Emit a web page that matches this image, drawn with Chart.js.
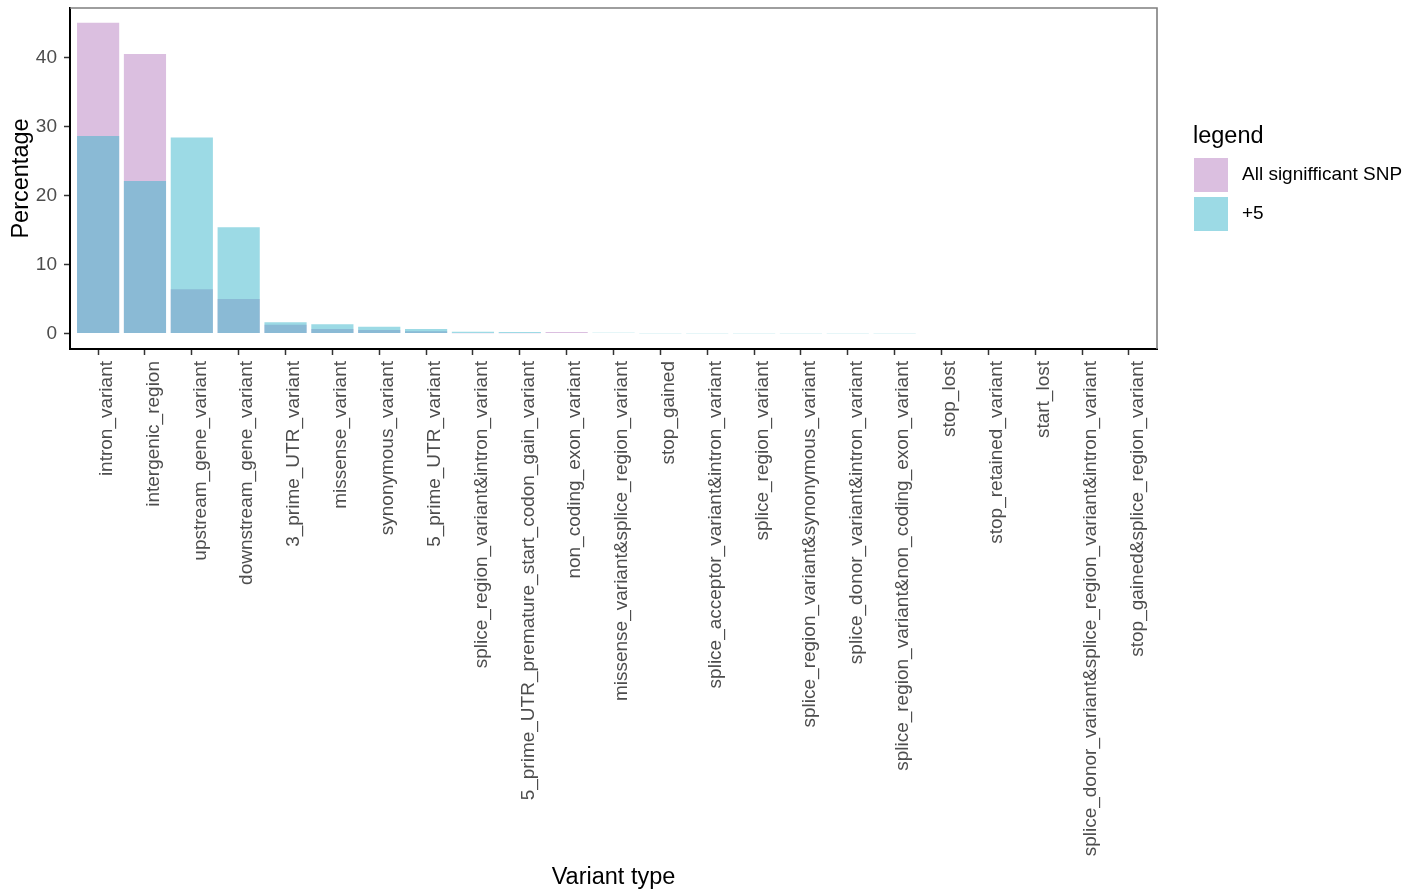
<!DOCTYPE html>
<html>
<head>
<meta charset="utf-8">
<script src="https://cdn.jsdelivr.net/npm/chart.js@4/dist/chart.umd.min.js"></script>
<style>
  html, body { margin: 0; padding: 0; background: #ffffff; }
  #wrap { width: 1421px; height: 895px; }
</style>
</head>
<body>
<div id="wrap"><canvas id="chart" width="1421" height="895"></canvas></div>
<script>
// Variant types, in plotted order
const categories = [
  'intron_variant', 'intergenic_region', 'upstream_gene_variant', 'downstream_gene_variant',
  '3_prime_UTR_variant', 'missense_variant', 'synonymous_variant', '5_prime_UTR_variant',
  'splice_region_variant&intron_variant', '5_prime_UTR_premature_start_codon_gain_variant',
  'non_coding_exon_variant', 'missense_variant&splice_region_variant', 'stop_gained',
  'splice_acceptor_variant&intron_variant', 'splice_region_variant',
  'splice_region_variant&synonymous_variant', 'splice_donor_variant&intron_variant',
  'splice_region_variant&non_coding_exon_variant', 'stop_lost', 'stop_retained_variant',
  'start_lost', 'splice_donor_variant&splice_region_variant&intron_variant',
  'stop_gained&splice_region_variant'
];

// Percentage of variants per type
const allSnp = [45.0, 40.5, 6.4, 5.0, 1.25, 0.67, 0.52, 0.33, 0.05, 0.04, 0.22, 0, 0,
  0, 0, 0, 0, 0, 0, 0, 0, 0, 0];
const plus5 = [28.6, 22.1, 28.4, 15.4, 1.64, 1.35, 0.96, 0.67, 0.25, 0.2, 0, 0.1, 0.05,
  0.05, 0.05, 0.04, 0.04, 0.03, 0, 0, 0, 0, 0];

const yTicks = [0, 10, 20, 30, 40];

const seriesNames = ['All signifficant SNP', '+5'];
const seriesColors = ['rgba(183,127,193,0.5)', 'rgba(57,181,203,0.5)'];

const FONT = "'Liberation Sans', Arial, Helvetica, sans-serif";

// Grey panel frame on the top and right sides
const panelFrame = {
  id: 'panelFrame',
  afterDraw(chart) {
    const { ctx, chartArea: a } = chart;
    ctx.save();
    ctx.strokeStyle = '#7f7f7f';
    ctx.lineWidth = 1.6;
    ctx.beginPath();
    ctx.moveTo(a.left, a.top);
    ctx.lineTo(a.right, a.top);
    ctx.lineTo(a.right, a.bottom);
    ctx.stroke();
    ctx.restore();
  }
};

// Legend with title and square keys, placed right of the panel
const sideLegend = {
  id: 'sideLegend',
  afterDraw(chart) {
    const { ctx, chartArea: a } = chart;
    const mid = (a.top + a.bottom) / 2;
    const x0 = a.right + 36;
    ctx.save();
    ctx.fillStyle = '#000000';
    ctx.textBaseline = 'middle';
    ctx.textAlign = 'left';
    ctx.font = `23.5px ${FONT}`;
    ctx.fillText('legend', x0, mid - 42);
    ctx.font = `19px ${FONT}`;
    chart.data.datasets.forEach((ds, i) => {
      const top = mid - 20.5 + i * 39;
      ctx.fillStyle = ds.backgroundColor;
      ctx.fillRect(x0 + 1, top, 34, 34);
      ctx.fillStyle = '#000000';
      ctx.fillText(ds.label, x0 + 49, top + 17);
    });
    ctx.restore();
  }
};

const toPoints = arr => arr.map((v, i) => ({ x: i, y: v }));

const tickGrid = {
  display: true,
  offset: false,
  drawOnChartArea: false,
  drawTicks: true,
  tickLength: 6,
  tickWidth: 1.5,
  tickColor: '#333333'
};

new Chart(document.getElementById('chart'), {
  type: 'bar',
  data: {
    datasets: [
      {
        label: seriesNames[0],
        data: toPoints(allSnp),
        backgroundColor: seriesColors[0],
        borderWidth: 0,
        grouped: false,
        order: 1,
        barPercentage: 0.9,
        categoryPercentage: 1.0
      },
      {
        label: seriesNames[1],
        data: toPoints(plus5),
        backgroundColor: seriesColors[1],
        borderWidth: 0,
        grouped: false,
        order: 0,
        barPercentage: 0.9,
        categoryPercentage: 1.0
      }
    ]
  },
  options: {
    responsive: false,
    animation: false,
    devicePixelRatio: 1,
    layout: { padding: { top: 8, right: 264, bottom: 0, left: 0 } },
    plugins: {
      legend: { display: false },
      tooltip: { enabled: false }
    },
    scales: {
      x: {
        type: 'linear',
        offset: false,
        min: -0.6,
        max: categories.length - 1 + 0.6,
        afterBuildTicks(scale) {
          scale.ticks = categories.map((_, i) => ({ value: i }));
        },
        afterFit(scale) {
          scale.height = 546;
          scale.paddingLeft = 0;
          scale.paddingRight = 0;
        },
        grid: tickGrid,
        border: { display: true, color: '#000000', width: 2 },
        ticks: {
          autoSkip: false,
          maxRotation: 90,
          minRotation: 90,
          padding: 6,
          labelOffset: 8.5,
          color: '#4d4d4d',
          font: { family: FONT, size: 19 },
          callback: v => categories[v]
        },
        title: {
          display: true,
          text: 'Variant type',
          color: '#000000',
          font: { family: FONT, size: 23.5, lineHeight: 1.2 },
          padding: { top: 4, bottom: 3 }
        }
      },
      y: {
        min: -2.245,
        max: 47.15,
        afterBuildTicks(scale) {
          scale.ticks = yTicks.map(v => ({ value: v }));
        },
        afterFit(scale) {
          scale.width = 70;
          scale.paddingTop = 0;
          scale.paddingBottom = 0;
        },
        grid: tickGrid,
        border: { display: true, color: '#000000', width: 2 },
        ticks: {
          padding: 7,
          color: '#4d4d4d',
          font: { family: FONT, size: 19 }
        },
        title: {
          display: true,
          text: 'Percentage',
          color: '#000000',
          font: { family: FONT, size: 23.5, lineHeight: 1.2 },
          padding: { top: 7.5, bottom: 4 }
        }
      }
    }
  },
  plugins: [panelFrame, sideLegend]
});
</script>
</body>
</html>
